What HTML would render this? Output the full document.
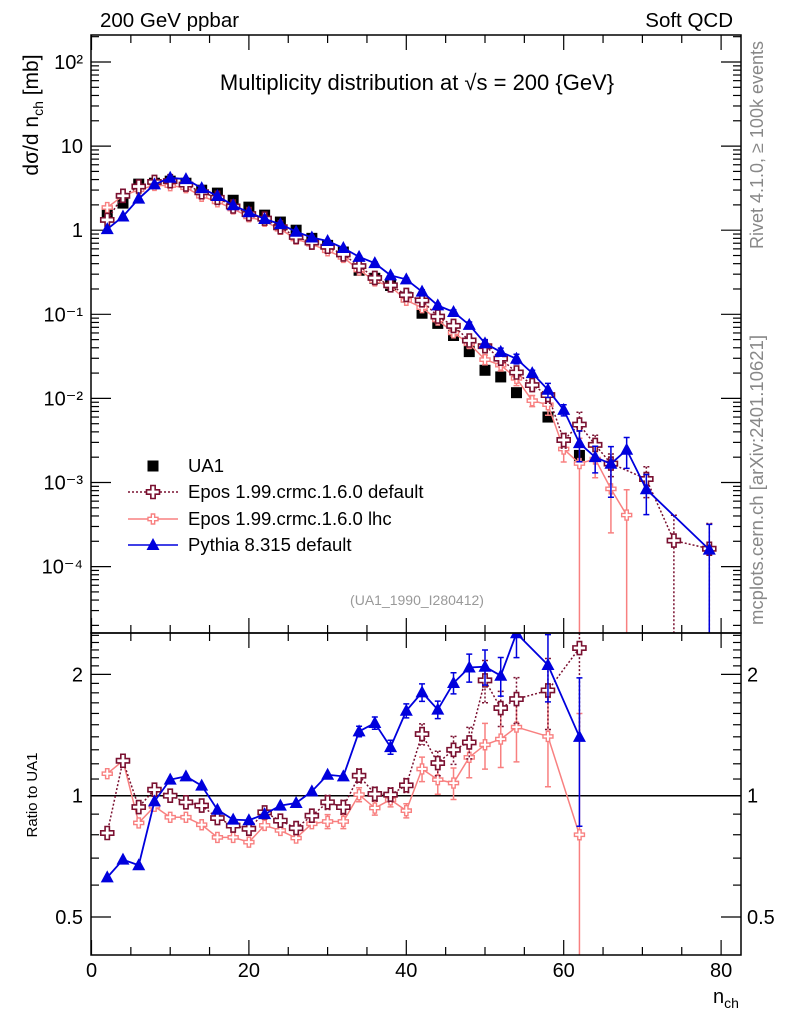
<!DOCTYPE html>
<html><head><meta charset="utf-8"><style>
html,body{margin:0;padding:0;background:#fff;}
svg{display:block;font-family:"Liberation Sans","DejaVu Sans",sans-serif;}
</style></head><body>
<svg id="chart" width="786" height="1024" viewBox="0 0 786 1024" xmlns="http://www.w3.org/2000/svg">
<defs>
<clipPath id="clipMain"><rect x="91" y="35" width="650" height="598"/></clipPath>
<clipPath id="clipRatio"><rect x="91" y="633" width="650" height="322"/></clipPath>
</defs>
<text x="100" y="27" font-size="20.5">200 GeV ppbar</text>
<text x="733" y="27" font-size="20.5" text-anchor="end">Soft QCD</text>
<text x="417" y="90" font-size="22" text-anchor="middle">Multiplicity distribution at √s = 200 {GeV}</text>
<text x="417" y="605" font-size="14" fill="#999" text-anchor="middle">(UA1_1990_I280412)</text>
<text transform="translate(763,145) rotate(-90)" font-size="18" fill="#888" text-anchor="middle">Rivet 4.1.0, ≥ 100k events</text>
<text transform="translate(763,480) rotate(-90)" font-size="18.5" fill="#888" text-anchor="middle">mcplots.cern.ch [arXiv:2401.10621]</text>
<text transform="translate(38,115) rotate(-90)" font-size="21" text-anchor="middle">dσ/d n<tspan font-size="14" dy="5">ch</tspan><tspan dy="-5"> [mb]</tspan></text>
<text transform="translate(37,795) rotate(-90)" font-size="15" text-anchor="middle">Ratio to UA1</text>
<text x="713" y="1003" font-size="20">n<tspan font-size="14" dy="5">ch</tspan></text>
<g id="axes"></g>
<g id="mainMarks" clip-path="url(#clipMain)"></g>
<g id="ratioMarks" clip-path="url(#clipRatio)"></g>
<g id="legend"></g>
<rect x="91" y="35" width="650" height="598" fill="none" stroke="#000" stroke-width="1.5"/>
<rect x="91" y="633" width="650" height="322" fill="none" stroke="#000" stroke-width="1.5"/>
</svg>
<script>
const nData = [2,4,6,8,10,12,14,16,18,20,22,24,26,28,30,32,34,36,38,40,42,44,46,48,50,52,54,58,62];
const ua1 = [1.64,2.1,3.53,3.62,3.83,3.62,2.99,2.76,2.27,1.88,1.51,1.25,1.0,0.80,0.66,0.55,0.334,0.268,0.22,0.16,0.103,0.078,0.056,0.036,0.0216,0.018,0.0117,0.006,0.0021];
const ratioPythia = [0.627,0.694,0.672,0.968,1.096,1.117,1.059,0.923,0.872,0.869,0.90,0.945,0.959,1.025,1.127,1.117,1.444,1.515,1.32,1.625,1.805,1.635,1.904,2.08,2.09,1.985,2.53,2.11,1.4];
const ratioEposDef = [0.808,1.221,0.937,1.035,1.0,0.963,0.945,0.88,0.843,0.828,0.909,0.867,0.831,0.892,0.963,0.937,1.121,1.01,1.006,1.061,1.422,1.205,1.30,1.356,1.933,1.65,1.737,1.825,2.325];
const ratioEposLhc = [1.134,1.221,0.856,0.941,0.884,0.884,0.847,0.788,0.788,0.767,0.844,0.82,0.785,0.852,0.863,0.863,1.006,0.932,0.977,0.918,1.165,1.096,1.075,1.245,1.338,1.382,1.48,1.403,0.80];
const errPythia = [0,0,0,0,0,0,0,0,0,0,0,0,0,0,0,0,0.03,0.035,0.04,0.04,0.05,0.05,0.06,0.08,0.10,0.11,0.13,0.19,0.40];
const errEposDef = [0,0,0,0,0,0,0,0,0,0,0,0,0,0,0.04,0.04,0.04,0.04,0.04,0.04,0.06,0.07,0.08,0.09,0.12,0.1,0.13,0.2,0.4];
const errEposLhc = [0,0,0,0,0,0,0,0,0,0,0,0,0,0,0.04,0.04,0.04,0.04,0.04,0.04,0.07,0.08,0.09,0.11,0.13,0.15,0.18,0.25,1.0];
const nTailPythia = [56,60,64,66,68,70.5,78.5];
const pythiaTail = [0.020,0.0073,0.0020,0.00167,0.00245,0.00083,0.000159];
const pythiaTailErr = [0.08,0.15,0.35,0.6,0.4,0.5,1.0];
const nTailEposDef = [56,60,64,66,70.5,74,78.5];
const eposDefTail = [0.0144,0.0032,0.0028,0.00168,0.0011,0.000204,0.000163];
const eposDefTailErr = [0.1,0.2,0.3,0.3,0.4,1.0,1.0];
const nTailEposLhc = [56,60,64,66,68];
const eposLhcTail = [0.0094,0.0025,0.0019,0.00084,0.00041];
const eposLhcTailErr = [0.15,0.3,0.4,0.7,1.0];
const xTicks = [0,20,40,60,80];
const mainTickLabels = ["10²","10","1","10⁻¹","10⁻²","10⁻³","10⁻⁴"];
const mainTickExp = [2,1,0,-1,-2,-3,-4];
const ratioTicks = [2,1,0.5];

const NS = "http://www.w3.org/2000/svg";
const X = n => 91.5 + 7.87*n;
const Ym = v => v<=0 ? 700 : 230.2 - 84.1*Math.log10(v);
const Yr = r => r<=0 ? 1000 : 795.7 - 121.3*Math.log2(r);
function mk(tag, attrs, parent){const e=document.createElementNS(NS,tag);for(const k in attrs)e.setAttribute(k,attrs[k]);parent.appendChild(e);return e;}
const axes=document.getElementById('axes'), mainG=document.getElementById('mainMarks'), ratioG=document.getElementById('ratioMarks'), legG=document.getElementById('legend');

for(let v=0; v<=82; v+=5){
  const major = v%20===0; const len = major?15:8; const x=X(v);
  let t=mk('line',{x1:x,x2:x,y1:955,y2:955-len,stroke:'#000','stroke-width':1.2},axes);
   
  t=mk('line',{x1:x,x2:x,y1:633,y2:633+len,stroke:'#000','stroke-width':1.2},axes);
   
  t=mk('line',{x1:x,x2:x,y1:633,y2:633-len,stroke:'#000','stroke-width':1.2},axes);
   
  t=mk('line',{x1:x,x2:x,y1:35,y2:35+len,stroke:'#000','stroke-width':1.2},axes);
   
}
xTicks.forEach(v=>{
  const t=mk('text',{x:X(v),y:977,'font-size':20,'text-anchor':'middle'},axes); t.textContent=v;
   
});
for(let e=-5;e<=2;e++){
  for(let m=1;m<=9;m++){
    const y=Ym(m*Math.pow(10,e)); if(y<35||y>633) continue;
    const len = m===1?20:8;
    let t=mk('line',{x1:91,x2:91+len,y1:y,y2:y,stroke:'#000','stroke-width':1.2},axes);
     
    t=mk('line',{x1:741,x2:741-len,y1:y,y2:y,stroke:'#000','stroke-width':1.2},axes);
     
  }
}
mainTickExp.forEach((e,i)=>{
  const t=mk('text',{x:83,y:Ym(Math.pow(10,e))+7,'font-size':20,'text-anchor':'end'},axes); t.textContent=mainTickLabels[i];
   
});
[0.4,0.5,0.6,0.7,0.8,0.9,1,1.1,1.2,1.3,1.4,1.5,1.6,1.7,1.8,1.9,2,2.1,2.2,2.3,2.4,2.5].forEach(r=>{
  const y=Yr(r); if(y<633||y>955) return;
  const len = ratioTicks.includes(r)?20:8;
  let t=mk('line',{x1:91,x2:91+len,y1:y,y2:y,stroke:'#000','stroke-width':1.2},axes);
   
  t=mk('line',{x1:741,x2:741-len,y1:y,y2:y,stroke:'#000','stroke-width':1.2},axes);
   
});
ratioTicks.forEach(r=>{
  let t=mk('text',{x:83,y:Yr(r)+7,'font-size':20,'text-anchor':'end'},axes); t.textContent=r;
   
  t=mk('text',{x:747,y:Yr(r)+7,'font-size':20},axes); t.textContent=r;
   
});
let one=mk('line',{x1:91,x2:741,y1:Yr(1),y2:Yr(1),stroke:'#000','stroke-width':1.5},ratioG);
 

function crossPath(x,y,s){const a=s/2,b=s/6;return `M${x-b},${y-a}H${x+b}V${y-b}H${x+a}V${y+b}H${x+b}V${y+a}H${x-b}V${y+b}H${x-a}V${y-b}H${x-b}Z`;}
function marker(g,type,x,y,color,name){
  let e;
  if(type==='square') e=mk('rect',{x:x-5.5,y:y-5.5,width:11,height:11,fill:'#000'},g);
  else if(type==='tri') e=mk('polygon',{points:`${x},${y-7} ${x+6.5},${y+5} ${x-6.5},${y+5}`,fill:color},g);
  else if(type==='crossBig') e=mk('path',{d:crossPath(x,y,13),fill:'#fff',stroke:color,'stroke-width':1.6},g);
  else e=mk('path',{d:crossPath(x,y,10),fill:'#fff',stroke:color,'stroke-width':1.4},g);
   
}
function series(ns,vals,errs,yf,g,color,dash,type,name,lw){
  const pts=ns.map((n,i)=>[X(n),yf(vals[i])]);
  const pl=mk('polyline',{points:pts.map(p=>p.join(',')).join(' '),fill:'none',stroke:color,'stroke-width':lw},g);
  if(dash) pl.setAttribute('stroke-dasharray',dash);
   
  ns.forEach((n,i)=>{
    const e=errs[i]; if(!e) return;
    const x=X(n), y1=yf(vals[i]*(1+e)), y2=yf(vals[i]*(1-e));
    const eb=mk('path',{d:`M${x},${y1}V${y2}M${x-3},${y1}H${x+3}M${x-3},${y2}H${x+3}`,stroke:color,'stroke-width':1.5,fill:'none'},g);
    if(dash) eb.setAttribute('stroke-dasharray','2,2');
     
  });
  pts.forEach(p=>marker(g,type,p[0],p[1],color,name+'-marker'));
}
function merge(ratios,errs,tn,tv,te){
  const arr=nData.map((n,i)=>({n,v:ua1[i]*ratios[i],e:errs[i]})).concat(tn.map((n,i)=>({n,v:tv[i],e:te[i]})));
  arr.sort((a,b)=>a.n-b.n); return arr;
}
const C_P='#0000dd', C_D='#7a1030', C_L='#f88080';
const mL=merge(ratioEposLhc,errEposLhc,nTailEposLhc,eposLhcTail,eposLhcTailErr);
const mD=merge(ratioEposDef,errEposDef,nTailEposDef,eposDefTail,eposDefTailErr);
const mP=merge(ratioPythia,errPythia,nTailPythia,pythiaTail,pythiaTailErr);
nData.forEach((n,i)=>marker(mainG,'square',X(n),Ym(ua1[i]),'#000','ua1-marker'));
series(mL.map(d=>d.n),mL.map(d=>d.v),mL.map(d=>d.e),Ym,mainG,C_L,null,'crossSmall','epos-lhc',1.5);
series(mD.map(d=>d.n),mD.map(d=>d.v),mD.map(d=>d.e),Ym,mainG,C_D,'2,2','crossBig','epos-default',1.5);
series(mP.map(d=>d.n),mP.map(d=>d.v),mP.map(d=>d.e),Ym,mainG,C_P,null,'tri','pythia',1.8);
series(nData,ratioEposLhc,errEposLhc,Yr,ratioG,C_L,null,'crossSmall','ratio-epos-lhc',1.5);
series(nData,ratioEposDef,errEposDef,Yr,ratioG,C_D,'2,2','crossBig','ratio-epos-default',1.5);
series(nData,ratioPythia,errPythia,Yr,ratioG,C_P,null,'tri','ratio-pythia',1.8);

const legItems=[['UA1','square','#000',null,466],['Epos 1.99.crmc.1.6.0 default','crossBig',C_D,'2,2',492],['Epos 1.99.crmc.1.6.0 lhc','crossSmall',C_L,'',519],['Pythia 8.315 default','tri',C_P,'',545]];
legItems.forEach(it=>{
  if(it[3]!==null){
    const l=mk('line',{x1:128,x2:178,y1:it[4],y2:it[4],stroke:it[2],'stroke-width':1.5},legG);
    if(it[3]) l.setAttribute('stroke-dasharray',it[3]);
     
  }
  marker(legG,it[1],153,it[4],it[2],'legend-marker');
  const t=mk('text',{x:188,y:it[4]+6,'font-size':18.5},legG); t.textContent=it[0];
   
});
</script>
</body></html>
